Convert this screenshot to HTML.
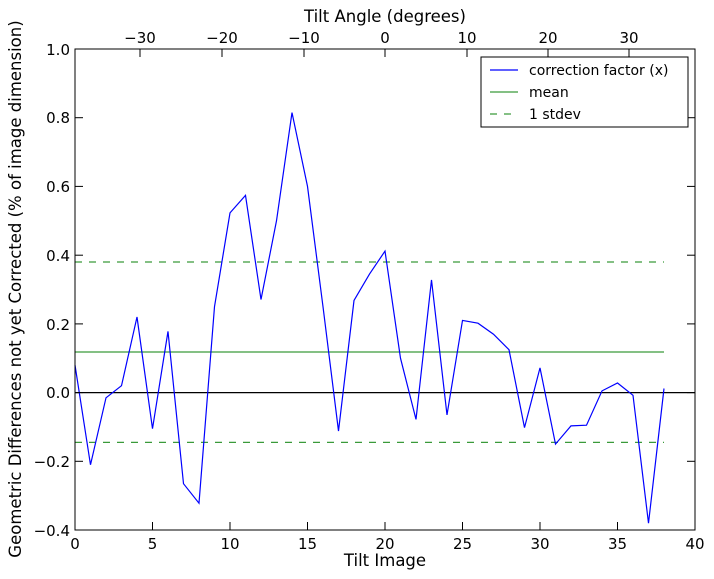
<!DOCTYPE html>
<html><head><meta charset="utf-8"><style>body{margin:0;background:#fff}svg{display:block}text{font-family:"DejaVu Sans","Liberation Sans",sans-serif;fill:#000}</style></head>
<body>
<svg width="714" height="579" xmlns="http://www.w3.org/2000/svg">
<rect width="714" height="579" fill="#fff"/>
<g id="plot">
<line x1="75" y1="392.6" x2="695" y2="392.6" stroke="#000" stroke-width="1.2"/>
<line x1="75" y1="352" x2="664" y2="352" stroke="#3a9a3a" stroke-width="1.2"/>
<line x1="75" y1="262" x2="664" y2="262" stroke="#3a9a3a" stroke-width="1.2" stroke-dasharray="7,7"/>
<line x1="75" y1="442.4" x2="664" y2="442.4" stroke="#3a9a3a" stroke-width="1.2" stroke-dasharray="7,7"/>
<polyline fill="none" stroke="#0000ff" stroke-width="1.2" points="75,365.1 90.5,464.8 106,397.8 121.5,385.7 137,317 152.5,428.7 168,331.4 183.5,483.7 199,503.2 214.5,306.7 230,212.9 245.5,195.4 261,299.5 276.5,220.8 292,112.6 307.5,186.4 323,306.7 338.5,431 354,300.5 369.5,274.1 385,251.1 400.5,358.2 416,419.4 431.5,279.9 447,414.9 462.5,320.4 478,323.2 493.5,334.2 509,349.7 524.5,427.6 540,367.9 555.5,444.1 571,425.9 586.5,425.2 602,390.9 617.5,383 633,395.3 648.5,523.2 664,388.5"/>
<rect x="75" y="49" width="620" height="481" fill="none" stroke="#000" stroke-width="1"/>
</g>
<g stroke="#000" stroke-width="1">
<line x1="75" y1="530" x2="75" y2="522"/><line x1="152.5" y1="530" x2="152.5" y2="522"/><line x1="230" y1="530" x2="230" y2="522"/><line x1="307.5" y1="530" x2="307.5" y2="522"/><line x1="385" y1="530" x2="385" y2="522"/><line x1="462.5" y1="530" x2="462.5" y2="522"/><line x1="540" y1="530" x2="540" y2="522"/><line x1="617.5" y1="530" x2="617.5" y2="522"/>
<line x1="75" y1="49" x2="83" y2="49"/><line x1="75" y1="117.7" x2="83" y2="117.7"/><line x1="75" y1="186.4" x2="83" y2="186.4"/><line x1="75" y1="255.2" x2="83" y2="255.2"/><line x1="75" y1="323.9" x2="83" y2="323.9"/><line x1="75" y1="392.6" x2="83" y2="392.6"/><line x1="75" y1="461.3" x2="83" y2="461.3"/>
<line x1="695" y1="49" x2="687" y2="49"/><line x1="695" y1="117.7" x2="687" y2="117.7"/><line x1="695" y1="186.4" x2="687" y2="186.4"/><line x1="695" y1="255.2" x2="687" y2="255.2"/><line x1="695" y1="323.9" x2="687" y2="323.9"/><line x1="695" y1="392.6" x2="687" y2="392.6"/><line x1="695" y1="461.3" x2="687" y2="461.3"/>
<line x1="140" y1="49" x2="140" y2="57"/><line x1="222" y1="49" x2="222" y2="57"/><line x1="304" y1="49" x2="304" y2="57"/><line x1="385" y1="49" x2="385" y2="57"/><line x1="467" y1="49" x2="467" y2="57"/><line x1="548" y1="49" x2="548" y2="57"/><line x1="629" y1="49" x2="629" y2="57"/>
</g>
<g font-size="15" text-anchor="middle">
<text x="75" y="549">0</text><text x="152.5" y="549">5</text><text x="230" y="549">10</text><text x="307.5" y="549">15</text><text x="385" y="549">20</text><text x="462.5" y="549">25</text><text x="540" y="549">30</text><text x="617.5" y="549">35</text><text x="695" y="549">40</text>
<text x="140" y="43">−30</text><text x="222" y="43">−20</text><text x="304" y="43">−10</text><text x="385" y="43">0</text><text x="467" y="43">10</text><text x="548" y="43">20</text><text x="629" y="43">30</text>
</g>
<g font-size="15" text-anchor="end">
<text x="70" y="55">1.0</text><text x="70" y="123">0.8</text><text x="70" y="192">0.6</text><text x="70" y="261">0.4</text><text x="70" y="330">0.2</text><text x="70" y="398">0.0</text><text x="70" y="467">−0.2</text><text x="70" y="536">−0.4</text>
</g>
<text x="385" y="566" font-size="16.5" text-anchor="middle">Tilt Image</text>
<text x="385" y="22" font-size="16.5" text-anchor="middle">Tilt Angle (degrees)</text>
<text transform="translate(21,289) rotate(-90)" font-size="16.5" text-anchor="middle">Geometric Differences not yet Corrected (% of image dimension)</text>
<rect x="481" y="57" width="207" height="70" fill="#fff" stroke="#000" stroke-width="1"/>
<line x1="490" y1="70" x2="518" y2="70" stroke="#0000ff" stroke-width="1.2"/>
<line x1="490" y1="92" x2="518" y2="92" stroke="#3a9a3a" stroke-width="1.2"/>
<line x1="490" y1="114" x2="518" y2="114" stroke="#3a9a3a" stroke-width="1.2" stroke-dasharray="7,7"/>
<g font-size="14"><text x="529" y="75">correction factor (x)</text><text x="529" y="97">mean</text><text x="529" y="119">1 stdev</text></g>
</svg>
</body></html>
